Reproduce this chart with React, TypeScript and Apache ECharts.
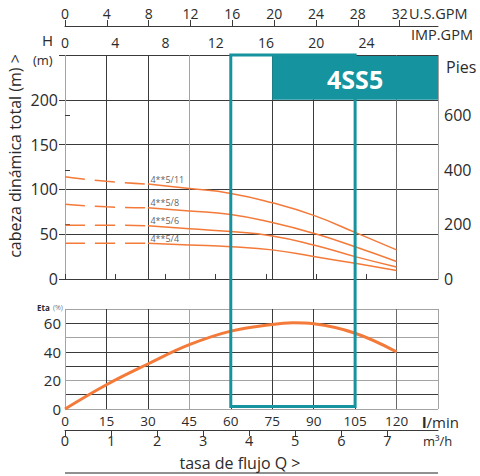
import React, { useEffect, useRef } from 'react';
import * as echarts from 'echarts';

// ---- data ----
const flowLmin = [0, 15, 30, 45, 60, 75, 90, 105, 120];
const head11 = [114, 109, 106, 101, 95.5, 85, 71, 52, 32.5];
const head8 = [83.5, 80.5, 79.5, 76, 72, 63, 51, 36, 19.5];
const head6 = [60, 60, 59.5, 56, 53, 48, 38, 25, 13.5];
const head4 = [40, 40, 40, 38, 36, 32.5, 25, 17.5, 9.5];
const curveNames = ['4**5/11', '4**5/8', '4**5/6', '4**5/4'];
const etaFlow = [0, 15, 30, 45, 60, 75, 82.5, 90, 105, 120];
const efficiency = [0, 17, 31.5, 45, 54.5, 59.2, 60.3, 59.6, 53, 40];
const dashEndIndex = 2; // dashed part up to 30 l/min

const lminTicks = [0, 15, 30, 45, 60, 75, 90, 105, 120];
const m3hTicks = [0, 1, 2, 3, 4, 5, 6, 7];
const usGpmTicks = [0, 4, 8, 12, 16, 20, 24, 28, 32];
const impGpmTicks = [0, 4, 8, 12, 16, 20, 24];
const headTicks = [0, 50, 100, 150, 200];
const feetTicks = [0, 200, 400, 600];
const feetTickMarks = [200, 400, 600];
const etaTicks = [0, 20, 40, 60];
const modelName = '4SS5';
const boxRange = [60, 105];
const badgeRange = [75, 135];
const badgeHeadRange = [200, 250];

const Q_MAX = 135;
const H_MAX = 250;
const ETA_MAX = 70;
const L_PER_USGAL = 3.78541;
const L_PER_IMPGAL = 4.54609;
const LMIN_PER_M3H = 1000 / 60;
const FT_PER_M = 3.28084;

const ORANGE = '#f47a3a';
const TEAL = '#15939e';
const DARK = '#3a3a3a';
const GRAY = '#a3a3a3';
const TXT = '#2b2b2b';
const FONT = '"Open Sans", "DejaVu Sans", sans-serif';

const xLineColors = [GRAY, DARK, DARK, GRAY, DARK, DARK, DARK, DARK, '#6a6a6a', GRAY];
const yUpperColors = [GRAY, DARK, DARK, DARK, DARK, DARK];
const yLowerColors = [GRAY, DARK, GRAY, DARK, DARK, GRAY, DARK, GRAY];

const inList = (list: number[]) => (v: number) =>
  list.some((t) => Math.abs(t - v) < 1e-6) ? String(v) : '';

export default function App() {
  const ref = useRef<HTMLDivElement>(null);
  useEffect(() => {
    const el = ref.current!;
    const chart = echarts.init(el, null, { renderer: 'svg' });
    const heads = [head11, head8, head6, head4];

    const headSeries: any[] = [];
    heads.forEach((h) => {
      headSeries.push({
        type: 'line', xAxisIndex: 0, yAxisIndex: 0, smooth: true, showSymbol: false, silent: true,
        data: flowLmin.slice(0, dashEndIndex + 1).map((q, j) => [q, h[j]]),
        lineStyle: { color: ORANGE, width: 1.5, type: [20, 10] },
      });
      headSeries.push({
        type: 'line', xAxisIndex: 0, yAxisIndex: 0, smooth: true, showSymbol: false, silent: true,
        data: flowLmin.slice(dashEndIndex).map((q, j) => [q, h[j + dashEndIndex]]),
        lineStyle: { color: ORANGE, width: 1.5 },
      });
    });

    const labelSeries = {
      type: 'scatter', xAxisIndex: 0, yAxisIndex: 0, symbolSize: 1, silent: true,
      itemStyle: { color: 'rgba(0,0,0,0)' },
      data: heads.map((h, i) => ({ name: curveNames[i], value: [flowLmin[dashEndIndex], h[dashEndIndex]] })),
      label: {
        show: true, formatter: '{b}', position: 'right', distance: 2, offset: [0, -5],
        fontSize: 9, color: '#333', fontFamily: FONT,
      },
    };

    const etaSeries = {
      type: 'line', xAxisIndex: 3, yAxisIndex: 2, smooth: 0.4, showSymbol: false, silent: true,
      data: etaFlow.map((q, j) => [q, efficiency[j]]),
      lineStyle: { color: ORANGE, width: 3 },
    };

    const lbl = (size: number, margin: number, extra: any = {}) => ({
      fontSize: size, margin, color: TXT, fontFamily: FONT, ...extra,
    });

    const option: any = {
      animation: false,
      backgroundColor: '#ffffff',
      grid: [
        { left: 65, top: 55, width: 373, height: 224, outerBoundsMode: 'none' },
        { left: 65, top: 309, width: 373, height: 100, outerBoundsMode: 'none' },
      ],
      xAxis: [
        {
          gridIndex: 0, type: 'value', min: 0, max: Q_MAX, interval: 15, position: 'bottom',
          axisLine: { show: false }, axisTick: { show: false }, axisLabel: { show: false },
          splitLine: { show: true, lineStyle: { color: xLineColors, width: 1 } },
        },
        {
          gridIndex: 0, type: 'value', min: 0, max: Q_MAX / L_PER_IMPGAL, interval: 4, position: 'top',
          axisLine: { show: true, lineStyle: { color: DARK, width: 1 } },
          axisTick: { show: true, length: 5, customValues: impGpmTicks, lineStyle: { color: DARK } },
          axisLabel: lbl(14, 6, { customValues: impGpmTicks, formatter: inList(impGpmTicks) }),
          splitLine: { show: false },
        },
        {
          gridIndex: 0, type: 'value', min: 0, max: Q_MAX / L_PER_USGAL, interval: 4, position: 'top', offset: 29,
          axisLine: { show: true, lineStyle: { color: DARK, width: 1 } },
          axisTick: { show: true, length: 6, customValues: usGpmTicks, lineStyle: { color: DARK } },
          axisLabel: lbl(14, 6, { customValues: usGpmTicks, formatter: inList(usGpmTicks) }),
          splitLine: { show: false },
        },
        {
          gridIndex: 1, type: 'value', min: 0, max: Q_MAX, interval: 15, position: 'bottom',
          axisLine: { show: false }, axisTick: { show: false },
          axisLabel: lbl(13.5, 5, { customValues: lminTicks, formatter: inList(lminTicks) }),
          splitLine: { show: true, lineStyle: { color: xLineColors, width: 1 } },
        },
        {
          gridIndex: 1, type: 'value', min: 0, max: Q_MAX / LMIN_PER_M3H, interval: 1, position: 'bottom', offset: 21,
          axisLine: { show: true, lineStyle: { color: DARK, width: 1 } },
          axisTick: { show: true, length: 6, customValues: m3hTicks, lineStyle: { color: DARK } },
          axisLabel: lbl(14.5, 3, { customValues: m3hTicks, formatter: inList(m3hTicks) }),
          splitLine: { show: false },
        },
      ],
      yAxis: [
        {
          gridIndex: 0, type: 'value', min: 0, max: H_MAX, interval: 50, position: 'left',
          axisLine: { show: false },
          axisTick: { show: true, length: 6, lineStyle: { color: DARK } },
          axisLabel: lbl(16, 7, { formatter: inList(headTicks) }),
          splitLine: { show: true, lineStyle: { color: yUpperColors, width: 1 } },
        },
        {
          gridIndex: 0, type: 'value', min: 0, max: H_MAX * FT_PER_M, interval: 200, position: 'right',
          axisLine: { show: false },
          axisTick: { show: true, length: 5, customValues: feetTickMarks, lineStyle: { color: DARK } },
          axisLabel: lbl(16, 6, { customValues: feetTicks, formatter: inList(feetTicks) }),
          splitLine: { show: false },
        },
        {
          gridIndex: 1, type: 'value', min: 0, max: ETA_MAX, interval: 10, position: 'left',
          axisLine: { show: false }, axisTick: { show: false },
          axisLabel: lbl(15, 4, { customValues: etaTicks, formatter: inList(etaTicks) }),
          splitLine: { show: true, lineStyle: { color: yLowerColors, width: 1 } },
        },
      ],
      series: [...headSeries, labelSeries, etaSeries],
    };
    chart.setOption(option);

    const px = (v: number) => chart.convertToPixel({ xAxisIndex: 0 }, v) as number;
    const py = (v: number) => chart.convertToPixel({ yAxisIndex: 0 }, v) as number;
    const pyEta = (v: number) => chart.convertToPixel({ yAxisIndex: 2 }, v) as number;

    const bx1 = px(boxRange[0]);
    const bx2 = px(boxRange[1]);
    const byTop = py(H_MAX);
    const byBot = pyEta(0) - 2.5;
    const gx1 = px(badgeRange[0]);
    const gx2 = px(badgeRange[1]);
    const gy1 = py(badgeHeadRange[1]) + 1;
    const gy2 = py(badgeHeadRange[0]);
    const axisRight = px(Q_MAX);

    const txt = (x: number, y: number, text: string, size: number, extra: any = {}) => ({
      type: 'text', x, y, z: 20,
      style: { text, fontSize: size, fill: TXT, fontFamily: FONT, verticalAlign: 'middle', align: 'left', ...extra },
    });

    chart.setOption({
      graphic: [
        {
          type: 'rect', z: 15, shape: { x: gx1, y: gy1, width: gx2 - gx1, height: gy2 - gy1 },
          style: { fill: TEAL },
        },
        {
          type: 'rect', z: 16, shape: { x: bx1, y: byTop, width: bx2 - bx1, height: byBot - byTop },
          style: { fill: 'none', stroke: TEAL, lineWidth: 3 },
        },
        txt((gx1 + gx2) / 2, (gy1 + gy2) / 2 + 1, modelName, 25, {
          fill: '#ffffff', fontWeight: 'bold', align: 'center',
        }),
        txt(409, 13, 'U.S.GPM', 14.5),
        txt(411, 34, 'IMP.GPM', 14.5),
        txt(42, 40, 'H', 15),
        txt(33, 60, '(m)', 13),
        txt(446, 67, 'Pies', 16),
        {
          type: 'text', x: 15, y: 156, rotation: Math.PI / 2, z: 20,
          style: {
            text: 'cabeza dinámica total (m) >', fontSize: 16, fill: TXT, fontFamily: FONT,
            align: 'center', verticalAlign: 'middle',
          },
        },
        {
          type: 'text', x: 37, y: 307, z: 20,
          style: {
            text: '{b|Eta} {s|(%)}', fontFamily: FONT, verticalAlign: 'middle', align: 'left',
            rich: {
              b: { fontSize: 8, fontWeight: 'bold', fill: TXT, fontFamily: FONT },
              s: { fontSize: 7, fill: '#777', fontFamily: FONT },
            },
          },
        },
        {
          type: 'text', x: 422, y: 422, z: 20,
          style: {
            text: '{b|l}/min', fontSize: 15, fill: TXT, fontFamily: FONT, verticalAlign: 'middle', align: 'left',
            rich: { b: { fontSize: 15, fontWeight: 'bold', fill: TXT, fontFamily: FONT } },
          },
        },
        txt(423, 441, 'm³/h', 13),
        txt(240, 463, 'tasa de flujo Q >', 16, { align: 'center' }),
        {
          type: 'line', z: 20, shape: { x1: 65, y1: 473, x2: axisRight, y2: 473 },
          style: { stroke: '#222', lineWidth: 1 },
        },
      ],
    });

    return () => chart.dispose();
  }, []);

  return (
    <div
      ref={ref}
      style={{ position: 'absolute', left: 0, top: 0, width: 480, height: 476, background: '#fff' }}
    />
  );
}
